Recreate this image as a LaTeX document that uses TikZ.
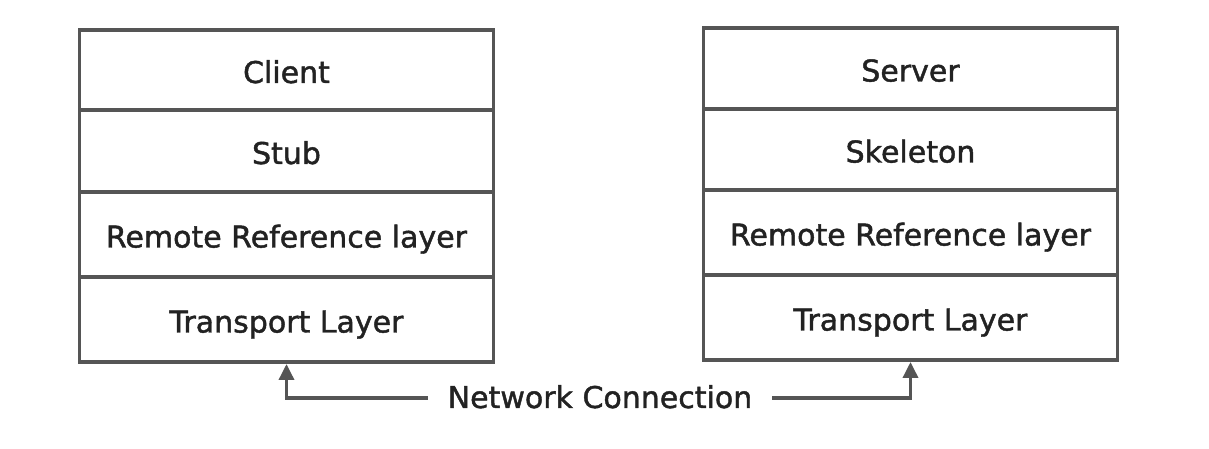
\documentclass[tikz,border=0pt]{standalone}
\usepackage{fontspec}
\setmainfont{DejaVu Sans}[FakeBold=1.4]
\usetikzlibrary{arrows.meta}
\definecolor{ColLine}{RGB}{85,85,85}
\definecolor{ColText}{RGB}{34,34,34}
\tikzstyle{LayerBox}=[rectangle,draw=ColLine,line width=3.5pt,minimum width=414pt,
inner sep=0pt,outer sep=0pt,text=ColText,text height=30pt,text depth=4pt,font=\fontsize{30}{36}\selectfont]
\tikzstyle{NetLabel}=[inner xsep=20pt,inner ysep=0pt,text=ColText,text height=26pt,text depth=6pt,
font=\fontsize{30}{36}\selectfont]
\tikzstyle{NetLink}=[ColLine,line width=3.5pt,-{Triangle[length=16pt,width=15pt]},shorten >=2pt]
\begin{document}
\begin{tikzpicture}[x=1pt,y=1pt]
        \fill[white](0,0)rectangle(1209,449);
        \useasboundingbox(0,0)rectangle(1209,449);
        % client side
        \node[LayerBox,minimum height=80pt](client)at(286.5,379){Client};
        \node[LayerBox,minimum height=82pt](stub)at(286.5,298){Stub};
        \node[LayerBox,minimum height=85pt](lref)at(286.5,214.5){Remote Reference layer};
        \node[LayerBox,minimum height=85pt](ltrans)at(286.5,129.5){Transport Layer};
        % server side
        \node[LayerBox,minimum height=81pt](server)at(910.5,380.5){Server};
        \node[LayerBox,minimum height=81pt](skel)at(910.5,299.5){Skeleton};
        \node[LayerBox,minimum height=85pt](rref)at(910.5,216.5){Remote Reference layer};
        \node[LayerBox,minimum height=85pt](rtrans)at(910.5,131.5){Transport Layer};
        \node[NetLabel](net)at(600,51){Network Connection};
        \draw[NetLink](net.west)-|(ltrans.south);
        \draw[NetLink](net.east)-|(rtrans.south);
    \end{tikzpicture}
\end{document}
